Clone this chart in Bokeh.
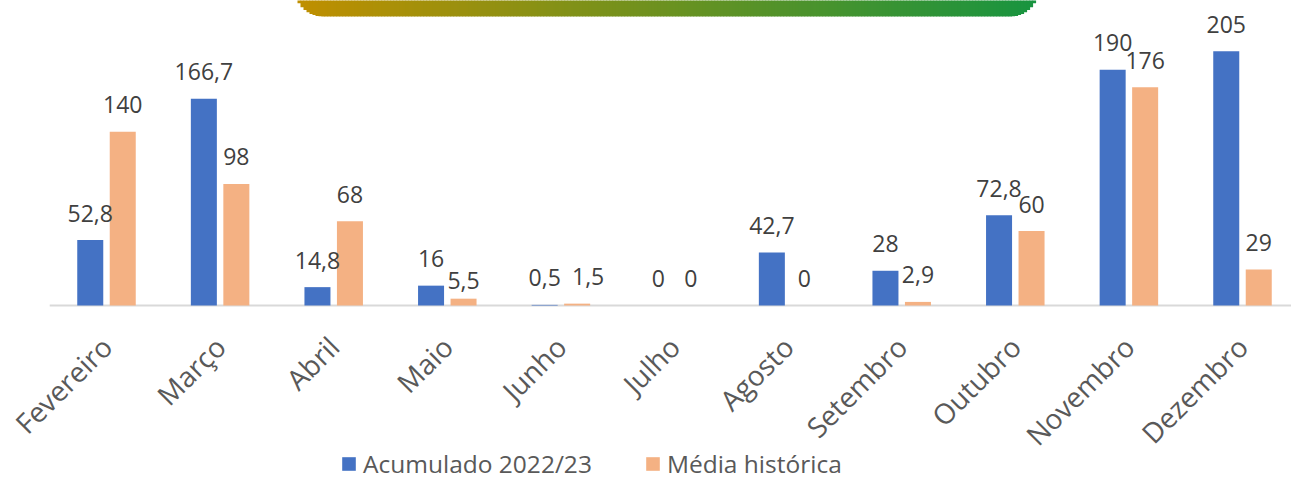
import math
from bokeh.plotting import figure
from bokeh.models import ColumnDataSource, Range1d, FixedTicker, Legend, LegendItem, LinearAxis
from bokeh.core.properties import value
from bokeh.embed import file_html
from bokeh.resources import INLINE

months = ["Fevereiro", "Março", "Abril", "Maio", "Junho", "Julho", "Agosto",
          "Setembro", "Outubro", "Novembro", "Dezembro"]
acumulado = [52.8, 166.7, 14.8, 16, 0.5, 0, 42.7, 28, 72.8, 190, 205]
media = [140, 98, 68, 5.5, 1.5, 0, 0, 2.9, 60, 176, 29]
series_names = ["Acumulado 2022/23", "Média histórica"]

BLUE = "#4472C4"
ORANGE = "#F4B183"
FONT = "Open Sans"

def fmt(v):
    return ("%g" % v).replace(".", ",")

# label nudges in pixels (x right, y up) where the original moved labels apart
nudge_m_x = {4: 11}
nudge_m_y = {3: -9}

# pixel geometry (canvas 1291x480)
PX_PER_CAT = 113.6
CAT0_PX = 106.0
ZERO_PX = 305
PX_PER_UNIT = 1.2405
W, H = 1291, 480

x_start = (0 - CAT0_PX) / PX_PER_CAT
x_end = (W - CAT0_PX) / PX_PER_CAT
y_end = ZERO_PX / PX_PER_UNIT
y_start = -(H - ZERO_PX) / PX_PER_UNIT

p = figure(width=W, height=H, output_backend="svg", toolbar_location=None,
           x_range=Range1d(x_start, x_end), y_range=Range1d(y_start, y_end),
           x_axis_location=None, y_axis_location=None,
           min_border_left=0, min_border_right=0, min_border_top=0,
           min_border_bottom=0)
p.title.visible = False
p.outline_line_color = None
p.grid.visible = False
p.background_fill_color = "white"
p.border_fill_color = "white"

off = 0.143
bw = 0.229
idx = list(range(len(months)))

# category axis baseline (from the first category's left edge to the right side)
p.segment(x0=[idx[0] - 0.5], y0=[0], x1=[x_end], y1=[0],
          line_color="#D9D9D9", line_width=2)

src_a = ColumnDataSource(dict(x=[i - off for i in idx], top=acumulado,
                              lab=[fmt(v) for v in acumulado],
                              dx=[0] * len(idx), dy=[-27] * len(idx)))
src_m = ColumnDataSource(dict(x=[i + off for i in idx], top=media,
                              lab=[fmt(v) for v in media],
                              dx=[nudge_m_x.get(i, 0) for i in idx],
                              dy=[-27 - nudge_m_y.get(i, 0) for i in idx]))

ra = p.vbar(x="x", top="top", width=bw, bottom=0, source=src_a,
            fill_color=BLUE, line_color=None)
rm = p.vbar(x="x", top="top", width=bw, bottom=0, source=src_m,
            fill_color=ORANGE, line_color=None)

for src in (src_a, src_m):
    p.text(x="x", y="top", text="lab", source=src, x_offset="dx", y_offset="dy",
           text_align="center", text_baseline="alphabetic",
           text_font=value(FONT), text_font_size="23px", text_color="#404040")

# decorative banner (gradient with rounded bottom corners)
b_left, b_right, b_bottom_px, radius = 297.0, 1035.0, 16.0, 28.0
n_strips = 246
w = (b_right - b_left) / n_strips
c0 = (191, 143, 0)
c1 = (24, 148, 64)
ql, qr, qt, qb, qc = [], [], [], [], []
cx_l = b_left + math.sqrt(32 * radius - 256)
cx_r = b_right - math.sqrt(32 * radius - 256)
cy = b_bottom_px - radius
for k in range(n_strips):
    px0 = b_left + k * w
    px1 = px0 + w
    pm = (px0 + px1) / 2
    if pm < cx_l:
        bot = cy + math.sqrt(max(radius ** 2 - (cx_l - pm) ** 2, 0))
    elif pm > cx_r:
        bot = cy + math.sqrt(max(radius ** 2 - (pm - cx_r) ** 2, 0))
    else:
        bot = b_bottom_px
    t = k / (n_strips - 1)
    col = "#%02x%02x%02x" % tuple(int(round(c0[j] + (c1[j] - c0[j]) * t)) for j in range(3))
    ql.append((px0 - CAT0_PX) / PX_PER_CAT)
    qr.append((px1 + 0.6 - CAT0_PX) / PX_PER_CAT)
    qt.append(y_end + 5)
    qb.append((ZERO_PX - bot) / PX_PER_UNIT)
    qc.append(col)
p.quad(left=ql, right=qr, top=qt, bottom=qb, fill_color=qc, line_color=None)

# x axis drawn at value 0 (line hidden; baseline segment drawn above)
ax = LinearAxis(fixed_location=0)
ax.ticker = FixedTicker(ticks=idx)
ax.major_label_overrides = {i: m for i, m in zip(idx, months)}
ax.major_label_orientation = math.pi / 4
ax.major_label_text_font = FONT
ax.major_label_text_font_size = "28px"
ax.major_label_text_color = "#595959"
ax.major_label_standoff = 30
ax.major_tick_line_color = None
ax.minor_tick_line_color = None
ax.axis_line_color = None
p.add_layout(ax, "below")

legend = Legend(items=[LegendItem(label=series_names[0], renderers=[ra]),
                       LegendItem(label=series_names[1], renderers=[rm])],
                orientation="horizontal", location=(340, 0),
                glyph_width=17, glyph_height=17, label_standoff=6, spacing=52,
                padding=0, margin=0, border_line_color=None,
                background_fill_alpha=0, label_text_font=FONT,
                label_text_font_size="24.5px", label_text_color="#595959",
                label_height=17)
p.add_layout(legend, "center")

open("out.html", "w").write(file_html(p, INLINE))
